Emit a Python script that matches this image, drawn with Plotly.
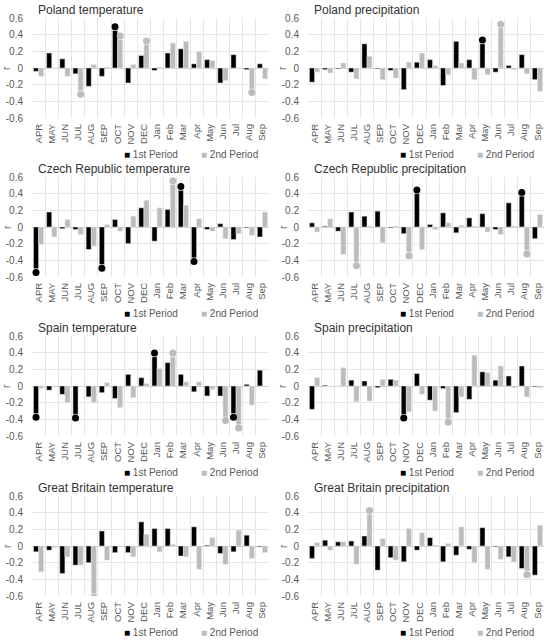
import plotly.graph_objects as go

months = ["APR", "MAY", "JUN", "JUL", "AUG", "SEP", "OCT", "NOV", "DEC",
          "Jan", "Feb", "Mar", "Apr", "May", "Jun", "Jul", "Aug", "Sep"]
y_ticks = [0.6, 0.4, 0.2, 0, -0.2, -0.4, -0.6]
y_tick_labels = ["0.6", "0.4", "0.2", "0", "-0.2", "-0.4", "-0.6"]
series_names = ["1st Period", "2nd Period"]

# correlation r, 1st and 2nd period
pl_temp_1 = [-0.04, 0.18, 0.11, -0.07, -0.22, -0.10, 0.45, -0.18, 0.15, -0.03, 0.18, 0.23, 0.05, 0.10, -0.18, 0.16, -0.02, 0.05]
pl_temp_2 = [-0.10, 0.00, -0.10, -0.27, 0.04, 0.01, 0.34, 0.04, 0.28, 0.01, 0.30, 0.32, 0.20, 0.09, -0.15, 0.00, -0.25, -0.13]
pl_temp_sig1 = ["OCT"]
pl_temp_sig2 = ["JUL", "OCT", "DEC", "Aug"]

pl_prec_1 = [-0.17, -0.02, -0.01, -0.05, 0.29, -0.01, -0.03, -0.26, 0.07, 0.10, -0.21, 0.32, 0.10, 0.29, -0.05, 0.03, 0.16, -0.14]
pl_prec_2 = [-0.05, -0.06, 0.06, -0.13, 0.14, -0.14, -0.12, 0.07, 0.18, 0.03, -0.08, 0.06, -0.14, -0.08, 0.48, -0.02, -0.07, -0.28]
pl_prec_sig1 = ["May"]
pl_prec_sig2 = ["Jun"]

cz_temp_1 = [-0.50, 0.18, -0.02, -0.03, -0.27, -0.45, 0.09, -0.20, 0.23, -0.17, 0.21, 0.44, -0.37, -0.03, 0.04, -0.15, -0.01, -0.12]
cz_temp_2 = [-0.21, -0.12, 0.09, -0.09, -0.23, 0.03, -0.05, 0.13, 0.32, 0.23, 0.51, 0.26, 0.10, -0.05, -0.14, -0.08, -0.10, 0.18]
cz_temp_sig1 = ["APR", "SEP", "Mar", "Apr"]
cz_temp_sig2 = ["Feb"]

cz_prec_1 = [0.05, 0.01, -0.05, 0.18, 0.13, 0.19, -0.01, -0.08, 0.40, 0.03, 0.17, -0.07, 0.11, 0.16, -0.03, 0.29, 0.37, -0.14]
cz_prec_2 = [-0.06, 0.10, -0.33, -0.42, 0.01, -0.19, 0.01, -0.30, -0.27, -0.03, 0.05, 0.02, 0.01, -0.06, -0.09, 0.01, -0.28, 0.15]
cz_prec_sig1 = ["DEC", "Aug"]
cz_prec_sig2 = ["JUL", "NOV", "Aug"]

es_temp_1 = [-0.33, -0.05, -0.10, -0.34, -0.13, -0.08, -0.15, 0.14, 0.10, 0.35, 0.28, 0.14, -0.07, -0.12, -0.12, -0.33, 0.02, 0.19]
es_temp_2 = [-0.03, 0.00, -0.20, 0.00, -0.20, 0.04, -0.26, -0.14, 0.03, 0.21, 0.35, 0.05, 0.05, -0.04, -0.37, -0.46, -0.23, -0.01]
es_temp_sig1 = ["APR", "JUL", "Jan", "Jul"]
es_temp_sig2 = ["Feb", "Jun", "Jul"]

es_prec_1 = [-0.28, 0.01, 0.00, 0.07, 0.06, -0.02, 0.08, -0.34, 0.15, -0.17, -0.03, -0.32, -0.16, 0.17, 0.07, 0.12, 0.24, -0.01]
es_prec_2 = [0.10, 0.00, 0.22, -0.19, -0.18, 0.08, 0.07, -0.31, -0.10, -0.30, -0.39, -0.13, 0.37, 0.16, 0.24, -0.02, -0.13, -0.02]
es_prec_sig1 = ["NOV"]
es_prec_sig2 = ["Feb"]

gb_temp_1 = [-0.07, -0.05, -0.33, -0.23, -0.20, 0.18, -0.08, -0.08, 0.29, 0.21, 0.21, -0.12, 0.23, 0.01, -0.09, -0.07, 0.13, -0.01]
gb_temp_2 = [-0.31, -0.02, -0.13, -0.23, -0.57, -0.17, 0.00, -0.13, 0.14, -0.07, 0.02, -0.13, -0.28, 0.10, -0.22, 0.19, -0.15, -0.08]
gb_temp_sig1 = []
gb_temp_sig2 = ["AUG"]

gb_prec_1 = [-0.15, 0.07, 0.05, 0.06, 0.12, -0.29, -0.14, -0.19, -0.05, 0.10, -0.19, -0.11, -0.04, 0.22, -0.01, -0.13, -0.27, -0.35]
gb_prec_2 = [0.04, -0.05, 0.05, -0.22, 0.38, 0.09, -0.17, 0.21, 0.16, 0.01, 0.03, 0.23, -0.20, -0.28, -0.16, -0.19, -0.30, 0.25]
gb_prec_sig1 = []
gb_prec_sig2 = ["AUG", "Aug"]

panels = [
    ("Poland temperature", pl_temp_1, pl_temp_2, pl_temp_sig1, pl_temp_sig2),
    ("Poland precipitation", pl_prec_1, pl_prec_2, pl_prec_sig1, pl_prec_sig2),
    ("Czech Republic temperature", cz_temp_1, cz_temp_2, cz_temp_sig1, cz_temp_sig2),
    ("Czech Republic precipitation", cz_prec_1, cz_prec_2, cz_prec_sig1, cz_prec_sig2),
    ("Spain temperature", es_temp_1, es_temp_2, es_temp_sig1, es_temp_sig2),
    ("Spain precipitation", es_prec_1, es_prec_2, es_prec_sig1, es_prec_sig2),
    ("Great Britain temperature", gb_temp_1, gb_temp_2, gb_temp_sig1, gb_temp_sig2),
    ("Great Britain precipitation", gb_prec_1, gb_prec_2, gb_prec_sig1, gb_prec_sig2),
]

W, H = 550, 641
FONT = "Liberation Sans"
BLACK = "#000000"
GREY = "#bcbcbc"
GRID = "#e6e6e6"
TXT = "#595959"
BARGAP = 0.22


def px(x):
    return x / W


def py(y):
    return 1 - y / H


col_left = [(32, 269), (308, 544)]
row_top = [18, 177, 336, 496]
plot_h = 100

fig = go.Figure()
layout = {}
annotations = []
idx = list(range(len(months)))
shift = (1 - BARGAP) / 4

for k, (title, s1, s2, sig1, sig2) in enumerate(panels):
    r, c = divmod(k, 2)
    n = "" if k == 0 else str(k + 1)
    xa, ya = "x" + n, "y" + n
    x0, x1 = col_left[c]
    top = row_top[r]

    fig.add_trace(go.Bar(x=idx, y=s1, name=series_names[0], marker_color=BLACK,
                         xaxis=xa, yaxis=ya, showlegend=False))
    fig.add_trace(go.Bar(x=idx, y=s2, name=series_names[1], marker_color=GREY,
                         xaxis=xa, yaxis=ya, showlegend=False))
    for vals, sig, d, col in ((s1, sig1, -shift, BLACK), (s2, sig2, shift, GREY)):
        if not sig:
            continue
        ii = [months.index(m) for m in sig]
        fig.add_trace(go.Scatter(
            x=[i + d for i in ii],
            y=[vals[i] + (0.045 if vals[i] > 0 else -0.045) for i in ii],
            mode="markers", marker=dict(color=col, size=7),
            showlegend=False, xaxis=xa, yaxis=ya, hoverinfo="skip"))

    layout["xaxis" + n] = dict(
        domain=[px(x0), px(x1)], anchor=ya, range=[-0.5, len(months) - 0.5],
        tickmode="array", tickvals=idx, ticktext=months, tickangle=-90,
        showgrid=False, zeroline=False, showline=False, ticks="",
        ticklabelstandoff=3,
        tickfont=dict(size=9.5, color=TXT, family=FONT),
        minor=dict(tickmode="linear", tick0=-0.5, dtick=1, showgrid=True,
                   gridcolor=GRID, gridwidth=1, ticks=""),
        fixedrange=True, automargin=False)
    layout["yaxis" + n] = dict(
        domain=[py(top + plot_h), py(top)], anchor=xa, range=[-0.6, 0.6],
        tickmode="array", tickvals=y_ticks, ticktext=y_tick_labels,
        showgrid=True, gridcolor=GRID, gridwidth=1, zeroline=True,
        zerolinecolor="#d0d0d0", zerolinewidth=1, showline=False, ticks="",
        ticklabelstandoff=8,
        tickfont=dict(size=10, color=TXT, family=FONT), fixedrange=True,
        automargin=False)

    annotations.append(dict(
        text=title, x=px(x0 + 4), y=py(top - 8), xref="paper", yref="paper",
        xanchor="left", yanchor="middle", showarrow=False,
        font=dict(size=12, color="#333333", family=FONT)))
    annotations.append(dict(
        text="r", x=px(x0 - 25), y=py(top + 50), xref="paper", yref="paper",
        xanchor="center", yanchor="middle", showarrow=False, textangle=-90,
        font=dict(size=10, color=TXT, family=FONT)))
    for name, col, lx in ((series_names[0], BLACK, 90), (series_names[1], GREY, 167)):
        annotations.append(dict(
            text="<span style='color:%s'>■</span> %s" % (col, name),
            x=px(x0 + lx), y=py(top + 136), xref="paper", yref="paper",
            xanchor="left", yanchor="middle", showarrow=False,
            font=dict(size=10, color=TXT, family=FONT)))

fig.update_layout(
    width=W, height=H, margin=dict(l=0, r=0, t=0, b=0),
    paper_bgcolor="white", plot_bgcolor="white", showlegend=False,
    barmode="group", bargap=BARGAP, bargroupgap=0,
    annotations=annotations, font=dict(family=FONT), **layout)

# the page's default body margin would push the 550x641 figure off the window
fig.write_html("out.html", config={"displayModeBar": False},
               post_script="document.body.style.margin='0';")
